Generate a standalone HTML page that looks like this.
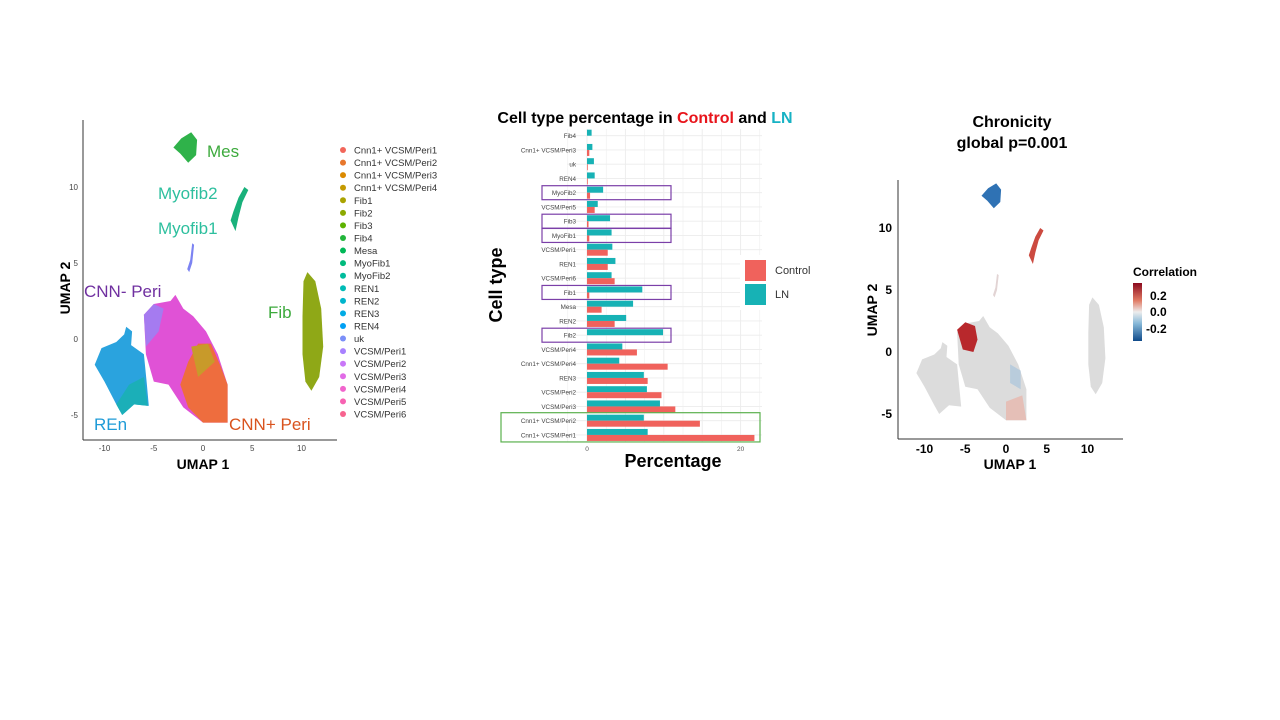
<!DOCTYPE html>
<html><head><meta charset="utf-8"><style>
body{margin:0;background:#fff;font-family:"Liberation Sans",Arial,sans-serif}
svg{display:block}
text{font-family:"Liberation Sans",Arial,sans-serif}
</style></head><body>
<svg id="s" width="1280" height="720" viewBox="0 0 1280 720">
<!-- LEFT UMAP -->
<g id="umapL">
<line x1="83" y1="120" x2="83" y2="440" stroke="#333" stroke-width="1"/>
<line x1="83" y1="440" x2="337" y2="440" stroke="#333" stroke-width="1"/>
<text x="203" y="469" font-size="14" font-weight="bold" text-anchor="middle">UMAP 1</text>
<text transform="translate(70,288) rotate(-90)" font-size="14" font-weight="bold" text-anchor="middle">UMAP 2</text>
</g>
<!-- BAR CHART -->
<g id="bar">
<g id="barGrid"></g>
<text x="645" y="123" font-size="16" font-weight="bold" text-anchor="middle">Cell type percentage in <tspan fill="#E8141B">Control</tspan> and <tspan fill="#17B2C4">LN</tspan></text>
<text transform="translate(502,285) rotate(-90)" font-size="18" font-weight="bold" text-anchor="middle">Cell type</text>
<text x="673" y="467" font-size="18" font-weight="bold" text-anchor="middle">Percentage</text>
</g>
<!-- RIGHT UMAP -->
<g id="umapR">
<text x="1012" y="127" font-size="16" font-weight="bold" text-anchor="middle">Chronicity</text>
<text x="1012" y="148" font-size="16" font-weight="bold" text-anchor="middle">global p=0.001</text>
<line x1="898" y1="180" x2="898" y2="439" stroke="#333"/>
<line x1="898" y1="439" x2="1123" y2="439" stroke="#333"/>
<text x="1010" y="469" font-size="14" font-weight="bold" text-anchor="middle">UMAP 1</text>
<text transform="translate(877,310) rotate(-90)" font-size="14" font-weight="bold" text-anchor="middle">UMAP 2</text>
<text x="1133" y="276" font-size="12" font-weight="bold">Correlation</text>
<defs><linearGradient id="cg" x1="0" y1="0" x2="0" y2="1"><stop offset="0" stop-color="#8B0A1E"/><stop offset="0.3" stop-color="#E07A64"/><stop offset="0.5" stop-color="#EDEDED"/><stop offset="0.7" stop-color="#86B8D8"/><stop offset="1" stop-color="#0F4A8A"/></linearGradient></defs>
<rect x="1133" y="283" width="9" height="58" fill="url(#cg)"/>
<text x="1150" y="300" font-size="12" font-weight="bold">0.2</text>
<text x="1150" y="316" font-size="12" font-weight="bold">0.0</text>
<text x="1146" y="333" font-size="12" font-weight="bold">-0.2</text>
</g>
</svg>
<script>
const NS='http://www.w3.org/2000/svg';
function mk(parent,tag,attrs,txt){const e=document.createElementNS(NS,tag);for(const k in attrs)e.setAttribute(k,attrs[k]);if(txt!==undefined)e.textContent=txt;parent.appendChild(e);return e;}

// ---------- BAR CHART DATA ----------
const cellTypes=["Fib4","Cnn1+ VCSM/Peri3","uk","REN4","MyoFib2","VCSM/Peri5","Fib3","MyoFib1","VCSM/Peri1","REN1","VCSM/Peri6","Fib1","Mesa","REN2","Fib2","VCSM/Peri4","Cnn1+ VCSM/Peri4","REN3","VCSM/Peri2","VCSM/Peri3","Cnn1+ VCSM/Peri2","Cnn1+ VCSM/Peri1"];
const lnValues=[0.6,0.7,0.9,1.0,2.1,1.4,3.0,3.2,3.3,3.7,3.2,7.2,6.0,5.1,9.9,4.6,4.2,7.4,7.8,9.5,7.4,7.9];
const controlValues=[0,0.3,0.1,0.1,0.4,1.0,0.2,0.3,2.7,2.7,3.6,0.3,1.9,3.6,0,6.5,10.5,7.9,9.7,11.5,14.7,21.8];
const xTicks=[0,20];
const purpleBoxes=["MyoFib2","Fib3","MyoFib1","Fib1","Fib2"];
const greenBox=["Cnn1+ VCSM/Peri2","Cnn1+ VCSM/Peri1"];

const bar=document.getElementById('bar');
const grid=document.getElementById('barGrid');
const xS=v=>587+v*7.68;
const yS=i=>135.7+i*14.25;
for(let v=-2.5;v<=22.5;v+=2.5){const gl=mk(grid,'line',{x1:xS(v),x2:xS(v),y1:129,y2:442,stroke:'#ececec','stroke-width':v%5===0?0.9:0.5});

}
cellTypes.forEach((c,i)=>{const gl=mk(grid,'line',{x1:567,x2:762,y1:yS(i),y2:yS(i),stroke:'#ececec','stroke-width':0.9});

});
cellTypes.forEach((c,i)=>{
  const y=yS(i);
  const t=mk(bar,'text',{x:576,y:y+2.5,'font-size':6.3,fill:'#444','text-anchor':'end'},c);
  
  
  const b1=mk(bar,'rect',{x:xS(0),y:y-6,width:Math.max(0,xS(lnValues[i])-xS(0)),height:6,fill:'#17B2B5'});
  
  
  const b2=mk(bar,'rect',{x:xS(0),y:y,width:Math.max(0,xS(controlValues[i])-xS(0)),height:6,fill:'#F0625C'});
  
  
});
xTicks.forEach(v=>{const t=mk(bar,'text',{x:xS(v),y:451,'font-size':6.5,fill:'#555','text-anchor':'middle'},String(v));

});
purpleBoxes.forEach(c=>{const i=cellTypes.indexOf(c);const bx=mk(bar,'rect',{x:542,y:yS(i)-7,width:129,height:14,fill:'none',stroke:'#7B3FA8','stroke-width':1.2});

});
{const i0=cellTypes.indexOf(greenBox[0]),i1=cellTypes.indexOf(greenBox[1]);
const bx=mk(bar,'rect',{x:501,y:yS(i0)-8,width:259,height:yS(i1)-yS(i0)+15,fill:'none',stroke:'#5BB04E','stroke-width':1.2});

}
// legend on top of grid
{const bg=mk(bar,'rect',{x:740,y:255,width:80,height:55,fill:'#fff'});


const k1=mk(bar,'rect',{x:745,y:260,width:21,height:21,fill:'#F0625C'});


const k2=mk(bar,'rect',{x:745,y:284,width:21,height:21,fill:'#17B2B5'});


const l1=mk(bar,'text',{x:775,y:274,'font-size':11,fill:'#333'},'Control');


const l2=mk(bar,'text',{x:775,y:298,'font-size':11,fill:'#333'},'LN');

}

// ---------- LEFT UMAP ----------
const L=document.getElementById('umapL');
const lx=v=>203+v*9.85, ly=v=>339-v*15.2;
const leftXTicks=[-10,-5,0,5,10], leftYTicks=[-5,0,5,10];
leftXTicks.forEach(v=>{const t=mk(L,'text',{x:lx(v),y:451,'font-size':8,fill:'#444','text-anchor':'middle'},String(v));

});
leftYTicks.forEach(v=>{const t=mk(L,'text',{x:78,y:ly(v)+3,'font-size':8,fill:'#444','text-anchor':'end'},String(v));

});
function poly(g,pts,fx,fy,fill,name,op){const d=pts.map((p,i)=>(i?'L':'M')+fx(p[0]).toFixed(1)+','+fy(p[1]).toFixed(1)).join('')+'Z';const e=mk(g,'path',{d:d,fill:fill,opacity:op||1});

return e;}
const shapes={
 mesa:[[-3,12.6],[-2.2,13.2],[-1.2,13.6],[-0.6,13.1],[-0.7,12.1],[-1.5,11.6],[-2.3,12.2]],
 myo:[[2.8,7.8],[3.3,7.1],[3.6,8],[4,9],[4.6,9.8],[4.2,10],[3.6,9.3],[3.1,8.4]],
 uk:[[-1.6,4.6],[-1.3,5.2],[-1.1,6.3],[-0.9,6.2],[-1.1,5],[-1.4,4.4]],
 fib:[[10.2,3.8],[10.6,4.4],[11.4,3.8],[12,2],[12.2,-0.5],[11.8,-2.5],[11,-3.4],[10.4,-2.8],[10.1,-1],[10.1,1.5]],
 ren:[[-11,-1.7],[-10.3,-0.6],[-8.8,-0.2],[-8,0.3],[-7.8,0.8],[-7.2,0.5],[-7.3,-0.4],[-6,-1],[-5.7,-3],[-5.5,-4.4],[-7,-4.3],[-8.2,-5],[-8.8,-4.3],[-10,-2.8]],
 renT:[[-7.5,-3],[-6,-2.5],[-5.6,-4.4],[-7,-4.3],[-8.2,-5],[-8.8,-4.3],[-8,-3.5]],
 peri:[[-6,1.6],[-5,2.3],[-3.3,2.5],[-2.8,2.9],[-2,2],[-1,1.5],[0.3,0.5],[1.5,-1],[2.5,-3],[2.5,-5.5],[0,-5.5],[-2,-4.5],[-3.5,-3],[-5,-2.8],[-5.8,-1]],
 peri1:[[-6,1.6],[-5,2.3],[-4,2],[-4.5,0.5],[-5.8,-0.5]],
 cnn:[[-1.5,-1.5],[-0.5,-0.3],[0.8,-0.3],[1.8,-1.8],[2.5,-3],[2.5,-5.5],[0,-5.5],[-1.5,-4.5],[-2.3,-3]]
};
const uL=mk(L,'g',{});
poly(uL,shapes.mesa,lx,ly,'#2FB24A','cluster-mesa');
poly(uL,shapes.myo,lx,ly,'#19B17B','cluster-myofib');
poly(uL,shapes.uk,lx,ly,'#7C83F2','cluster-uk');
poly(uL,shapes.fib,lx,ly,'#8FA817','cluster-fib');
poly(uL,shapes.ren,lx,ly,'#2AA3DE','cluster-ren');
poly(uL,shapes.renT,lx,ly,'#1BAFB8','cluster-ren-teal');
poly(uL,shapes.peri,lx,ly,'#E052D6','cluster-vcsm-peri');
poly(uL,shapes.peri1,lx,ly,'#A57BF0','cluster-vcsm-peri1');
poly(uL,shapes.cnn,lx,ly,'#EE6D3E','cluster-cnn1-peri');
poly(uL,[[-1.2,-0.5],[0.5,-0.3],[1.2,-1.5],[-0.5,-2.5]],lx,ly,'#C89A2A','cluster-cnn1-peri4');
const bigLabels=[["Mes",207,157,"#3DAA3D"],["Myofib2",158,199,"#2DBF9E"],["Myofib1",158,234,"#2DBF9E"],["CNN- Peri",84,297,"#7030A0"],["Fib",268,318,"#3DAA3D"],["REn",94,430,"#1E9BD7"],["CNN+ Peri",229,430,"#D9531E"]];
bigLabels.forEach(b=>{const t=mk(L,'text',{x:b[1],y:b[2],'font-size':17,fill:b[3]},b[0]);

});
const legendNames=["Cnn1+ VCSM/Peri1","Cnn1+ VCSM/Peri2","Cnn1+ VCSM/Peri3","Cnn1+ VCSM/Peri4","Fib1","Fib2","Fib3","Fib4","Mesa","MyoFib1","MyoFib2","REN1","REN2","REN3","REN4","uk","VCSM/Peri1","VCSM/Peri2","VCSM/Peri3","VCSM/Peri4","VCSM/Peri5","VCSM/Peri6"];
const legendColors=["#F2665A","#E7772C","#DB8A00","#C49A00","#AAA300","#8CA900","#5DB200","#22B53A","#00B857","#00BA7C","#00BC9C","#00BBB6","#00B5CC","#00ABE4","#00A0F4","#7B8FF8","#A881FF","#C977F8","#E16BE6","#F165CD","#F762B2","#F7638F"];
legendNames.forEach((n,i)=>{const y=150+i*12.57;
const c=mk(L,'circle',{cx:343,cy:y,r:3,fill:legendColors[i]});


const t=mk(L,'text',{x:354,y:y+3.5,'font-size':9.5,fill:'#333'},n);

});

// ---------- RIGHT UMAP ----------
const R=document.getElementById('umapR');
const rx=v=>1006+v*8.15, ry=v=>352-v*12.4;
const rightXTicks=[-10,-5,0,5,10], rightYTicks=[-5,0,5,10];
rightXTicks.forEach(v=>{const t=mk(R,'text',{x:rx(v),y:453,'font-size':12,'font-weight':'bold','text-anchor':'middle'},String(v));

});
rightYTicks.forEach(v=>{const t=mk(R,'text',{x:892,y:ry(v)+4,'font-size':12,'font-weight':'bold','text-anchor':'end'},String(v));

});
poly(R,shapes.fib,rx,ry,'#DCDCDC','chron-fib');
poly(R,shapes.ren,rx,ry,'#DCDCDC','chron-ren');
poly(R,shapes.peri,rx,ry,'#DCDCDC','chron-peri');
poly(R,shapes.uk,rx,ry,'#E2D4D4','chron-uk');
poly(R,shapes.mesa,rx,ry,'#2F72B4','chron-mesa');
poly(R,shapes.myo,rx,ry,'#CC4A40','chron-myofib');
poly(R,[[-6,1.8],[-5,2.4],[-3.8,2.1],[-3.5,1],[-4,0],[-5.3,0.2]],rx,ry,'#B8282C','chron-peri1-hot');
poly(R,[[0,-4],[2,-3.5],[2.5,-5.5],[0,-5.5]],rx,ry,'#E7B8AE','chron-cnn-warm',0.8);
poly(R,[[0.5,-1],[1.8,-1.5],[1.8,-3],[0.5,-2.5]],rx,ry,'#A9C4DC','chron-cnn-cool',0.7);
</script>
</body></html>
